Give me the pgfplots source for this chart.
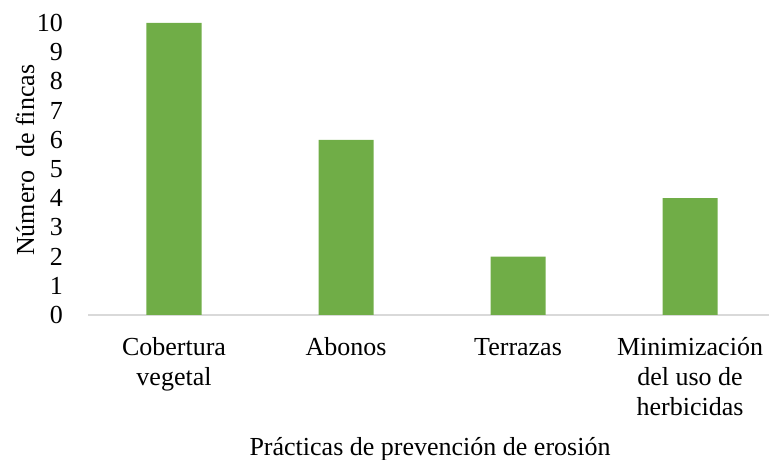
\documentclass[border=0pt]{standalone}
\usepackage{fontspec}
\setmainfont{Liberation Serif}
\usepackage{pgfplots}
\pgfplotsset{compat=1.18}
\definecolor{barg}{HTML}{70AD47}
\definecolor{axg}{HTML}{D9D9D9}
\begin{document}
\begin{tikzpicture}[x=1pt,y=1pt]
\useasboundingbox (0,0) rectangle (769,460);
\begin{axis}[
  at={(88pt,145pt)}, anchor=south west,
  scale only axis,
  width=681pt, height=292pt,
  xmin=-0.5, xmax=3.459,
  ymin=0, ymax=10,
  ytick={0,1,...,10},
  xtick={0,1,2,3},
  xticklabels={\strut Cobertura\\vegetal, \strut Abonos, \strut Terrazas, \strut Minimización\\del uso de\\herbicidas},
  /pgf/number format/assume math mode=true,
  major tick length=0pt,
  axis lines*=left,
  axis line style={draw=none},
  yticklabel style={font=\fontsize{26}{30}\selectfont, anchor=east, inner sep=0pt, xshift=-25pt},
  xticklabel style={font=\fontsize{26}{30}\selectfont, align=center, anchor=north, inner sep=0pt, yshift=-19pt},
  clip=false,
]
\draw[axg, line width=1.5pt] (rel axis cs:0,0) -- (rel axis cs:1,0) -- ++(7pt,0);
\addplot[ybar, bar width=0.32, fill=barg, draw=none] coordinates {(0,10) (1,6) (2,2) (3,4)};
\node[rotate=90, font=\fontsize{26}{30}\selectfont, anchor=center] at ([xshift=-63pt]rel axis cs:0,0.53) {Número\ \ de fincas};
\node[font=\fontsize{26}{30}\selectfont, anchor=base] at ([xshift=342pt,yshift=-140pt]rel axis cs:0,0) {Prácticas de prevención de erosión};
\end{axis}
\end{tikzpicture}
\end{document}
